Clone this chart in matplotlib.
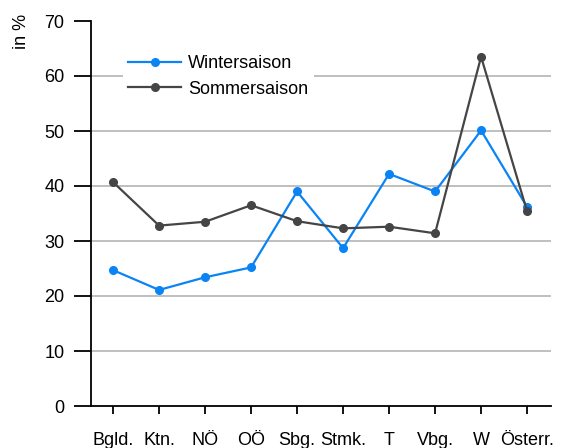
import matplotlib
matplotlib.use("Agg")
import matplotlib.pyplot as plt
import numpy as np

plt.rcParams['font.family'] = ['Liberation Sans', 'DejaVu Sans']

categories = ["Bgld.", "Ktn.", "NÖ", "OÖ", "Sbg.", "Stmk.", "T", "Vbg.", "W", "Österr."]
winter = [24.7, 21.1, 23.4, 25.2, 39.0, 28.7, 42.2, 39.0, 50.1, 36.2]
sommer = [40.7, 32.8, 33.5, 36.5, 33.6, 32.3, 32.6, 31.4, 63.5, 35.4]
yticks = [0, 10, 20, 30, 40, 50, 60, 70]

W, H = 561, 448
fig = plt.figure(figsize=(W/100, H/100), dpi=100)
ax = fig.add_axes([91/W, (H-406)/H, (551-91)/W, (406-21)/H])

x = np.arange(len(categories))
ax.set_xlim(-0.48, 9.52)
ax.set_ylim(0, 70)

for v in yticks[1:-1]:
    ax.axhline(v, color='#b4b4b4', lw=1.2, zorder=1)

ax.plot(x, winter, color='#0a84f5', lw=1.6, marker='o', ms=5.5, label='Wintersaison', zorder=3)
ax.plot(x, sommer, color='#454545', lw=1.6, marker='o', ms=5.5, label='Sommersaison', zorder=3)

for s in ['top', 'right']:
    ax.spines[s].set_visible(False)
ax.spines['left'].set_linewidth(1.3)
ax.spines['bottom'].set_linewidth(1.3)
ax.spines['left'].set_color('black')
ax.spines['bottom'].set_color('black')

ax.set_yticks(yticks)
ax.set_yticklabels([str(v) for v in yticks], fontsize=13)
ax.tick_params(axis='y', length=12, width=1.3, pad=7)
ax.set_xticks(x)
ax.set_xticklabels(categories, fontsize=13)
ax.tick_params(axis='x', length=6, width=1.3, pad=13)

leg = ax.legend(loc='upper left', bbox_to_anchor=((123-91)/460, (406-50)/385),
                frameon=True, fontsize=13, handlelength=2.9, handletextpad=0.4,
                labelspacing=0.45, borderaxespad=0, borderpad=0.3)
leg.get_frame().set_edgecolor('none')
leg.get_frame().set_facecolor('white')
leg.get_frame().set_alpha(1)

fig.text(22/W, 1-31/H, "in %", rotation=90, ha='center', va='center', fontsize=13)

fig.savefig("out.png", dpi=100)
